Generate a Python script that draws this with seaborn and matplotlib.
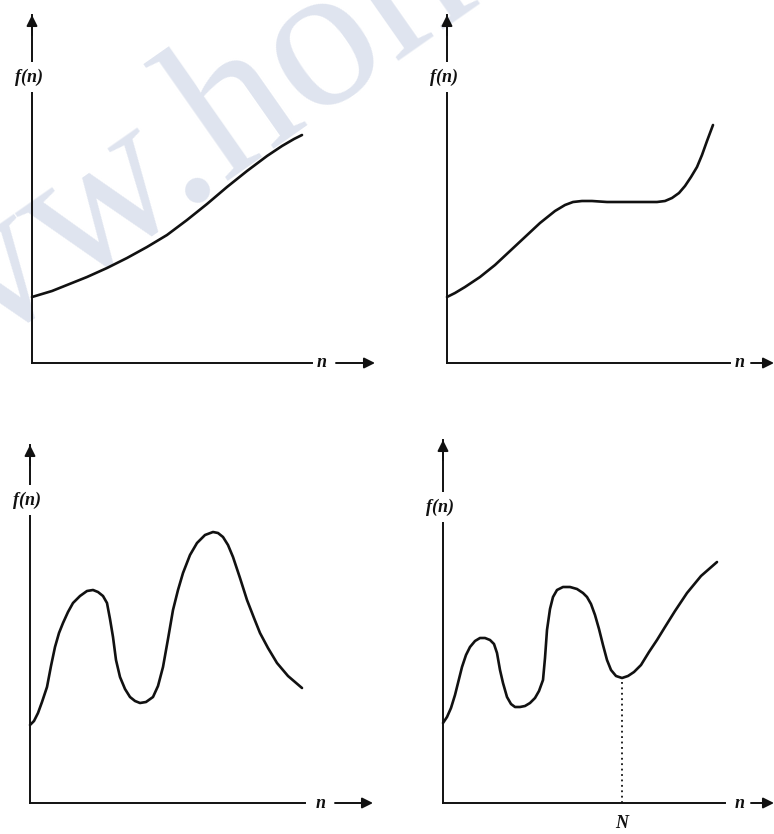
import matplotlib
matplotlib.use("Agg")
import matplotlib.pyplot as plt
import seaborn as sns
import pandas as pd

sns.set_theme(style="white")
plt.rcParams["font.family"] = ["Liberation Serif", "DejaVu Serif"]

# ---- data (n, f(n)), in picture units relative to each origin ----
n1 = [0, 10, 20, 35, 55, 75, 95, 115, 135, 155, 175, 195, 215, 235, 250, 262, 270]
f1 = [66, 69, 72, 78, 86, 95, 105, 116, 128, 143, 159, 176, 192, 207, 217, 224, 228]

n2 = [0, 8, 18, 33, 48, 63, 78, 93, 108, 118, 126, 135, 145, 160, 176, 192, 210,
      218, 225, 232, 238, 244, 250, 255, 260, 266]
f2 = [66, 70, 76, 86, 98, 112, 126, 140, 152, 158, 161, 162, 162, 161, 161, 161, 161,
      162, 165, 170, 177, 186, 196, 208, 222, 238]

n3 = [0, 4, 8, 12, 17, 21, 25, 29, 33, 38, 43, 50, 57, 63, 68, 73, 77, 80, 83, 86,
      90, 95, 100, 105, 110, 116, 123, 128, 133, 138, 143, 148, 153, 160, 167, 175,
      183, 188, 193, 198, 203, 210, 217, 224, 230, 238, 247, 258, 272]
f3 = [78, 82, 90, 101, 116, 137, 156, 170, 180, 191, 200, 207, 212, 213, 211, 207,
      200, 184, 166, 143, 126, 114, 106, 102, 100, 101, 106, 117, 136, 164, 193, 213,
      230, 248, 260, 268, 271, 270, 266, 258, 246, 225, 203, 185, 170, 155, 140, 127, 115]

n4 = [0, 4, 8, 12, 16, 19, 23, 27, 32, 37, 42, 47, 51, 54, 57, 60, 64, 68, 72, 77,
      82, 87, 92, 96, 100, 102, 104, 107, 110, 114, 120, 127, 134, 140, 144, 148, 152,
      156, 160, 164, 168, 173, 179, 185, 191, 198, 206, 214, 222, 232, 244, 258, 274]
f4 = [80, 86, 95, 108, 124, 136, 148, 156, 162, 165, 165, 163, 159, 150, 133, 120,
      106, 99, 96, 96, 97, 100, 105, 112, 123, 145, 173, 194, 206, 213, 216, 216, 214,
      210, 206, 199, 188, 174, 158, 143, 133, 127, 125, 127, 131, 138, 151, 163, 176,
      192, 210, 227, 241]

N_pos = 179
N_val = 125

y_label = "f(n)"
x_label = "n"
marker_label = "N"
watermark = "www.hom"

W, H = 774, 834
fig = plt.figure(figsize=(W / 100, H / 100), dpi=100)
fig.patch.set_facecolor("white")

# watermark (behind everything)
fig.text(-176 / W, 1 - 464 / H, watermark, fontsize=150, color="#dfe4ef",
         rotation=35, rotation_mode="anchor", ha="left", va="baseline",
         family="Liberation Serif", zorder=-5)

# panel geometry in picture pixels
panels = [
    dict(n=n1, f=f1, ox=32, oy=363, top=15, right=312, ly=77, nx=322, a0=336, a1=375),
    dict(n=n2, f=f2, ox=447, oy=363, top=15, right=730, ly=77, nx=740, a0=751, a1=774),
    dict(n=n3, f=f3, ox=30, oy=803, top=445, right=305, ly=500, nx=321, a0=335, a1=373),
    dict(n=n4, f=f4, ox=443, oy=803, top=440, right=725, ly=507, nx=740, a0=751, a1=774),
]

ink = "#111111"
for i, p in enumerate(panels):
    w = p["right"] - p["ox"]
    h = p["oy"] - p["top"]
    ax = fig.add_axes([p["ox"] / W, 1 - p["oy"] / H, w / W, h / H])
    ax.set_facecolor("none")
    ax.set_xlim(0, w)
    ax.set_ylim(0, h)
    ax.set_xticks([])
    ax.set_yticks([])
    for s in ["top", "right"]:
        ax.spines[s].set_visible(False)
    for s in ["left", "bottom"]:
        ax.spines[s].set_color(ink)
        ax.spines[s].set_linewidth(1.4)

    df = pd.DataFrame({"n": p["n"], "f": p["f"]})
    sns.lineplot(data=df, x="n", y="f", sort=False, estimator=None, color=ink,
                 linewidth=1.9, ax=ax, solid_capstyle="round",
                 solid_joinstyle="round", clip_on=False)
    ax.set_xlabel("")
    ax.set_ylabel("")

    # y arrow head
    ax.annotate("", xy=(0, h), xytext=(0, h - 20), annotation_clip=False,
                arrowprops=dict(arrowstyle="-|>", color=ink, lw=1.4,
                                mutation_scale=16, shrinkA=0, shrinkB=0))
    # f(n) label breaking the y axis
    ax.text(-3, p["oy"] - p["ly"], y_label, ha="center", va="center",
            fontsize=13, style="italic", fontweight="bold", color=ink,
            bbox=dict(facecolor="white", edgecolor="none", pad=4.5), clip_on=False)
    # n -> at the end of x axis
    ax.text(p["nx"] - p["ox"], 0, x_label, ha="center", va="center",
            fontsize=13, style="italic", fontweight="bold", color=ink, clip_on=False)
    ax.annotate("", xy=(p["a1"] - p["ox"], 0), xytext=(p["a0"] - p["ox"], 0),
                annotation_clip=False,
                arrowprops=dict(arrowstyle="-|>", color=ink, lw=1.4,
                                mutation_scale=16, shrinkA=0, shrinkB=0))

    if i == 3:
        ax.vlines(N_pos, 0, N_val, colors=ink, linestyles=(0, (1, 2)), linewidth=1.3)
        ax.text(N_pos, -20, marker_label, ha="center", va="center", fontsize=13,
                style="italic", fontweight="bold", color=ink, clip_on=False)

fig.savefig("out.png", dpi=100, facecolor="white")
